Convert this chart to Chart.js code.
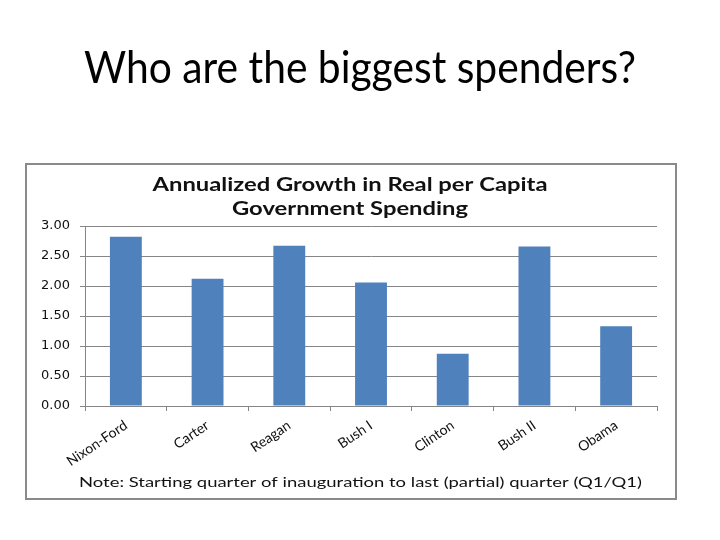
<!DOCTYPE html>
<html><head><meta charset="utf-8">
<script src="https://cdn.jsdelivr.net/npm/chart.js@4.4.1/dist/chart.umd.min.js"></script>
<style>html,body{margin:0;padding:0;background:#fff;}#c{display:block;}</style>
</head><body>
<canvas id="c" width="720" height="540"></canvas>
<script>
const slideTitle = "Who are the biggest spenders?";
const chartTitle = ["Annualized Growth in Real per Capita", "Government Spending"];
const noteText = "Note: Starting quarter of inauguration to last (partial) quarter (Q1/Q1)";
const categories = ["Nixon-Ford", "Carter", "Reagan", "Bush I", "Clinton", "Bush II", "Obama"];
const growth = [2.82, 2.12, 2.67, 2.06, 0.87, 2.66, 1.33];
const yTicks = [0, 0.5, 1, 1.5, 2, 2.5, 3];

// draw text at a given font size, stretched horizontally to a target width
function stretchText(ctx, text, cx, y, size, weight, family, target, sx) {
  ctx.font = weight + " " + size + "px " + family;
  const w = ctx.measureText(text).width;
  const k = sx || (target / w);
  ctx.save();
  ctx.translate(cx, y);
  ctx.scale(k, 1);
  ctx.textAlign = "center";
  ctx.fillText(text, 0, 0);
  ctx.restore();
  return k;
}

const decor = {
  id: "decor",
  beforeDraw(chart) {
    const ctx = chart.ctx;
    ctx.save();
    ctx.fillStyle = "#fff";
    ctx.fillRect(0, 0, chart.width, chart.height);
    ctx.strokeStyle = "#8a8a8a";
    ctx.lineWidth = 2;
    ctx.strokeRect(26, 164, 650, 335);
    ctx.restore();
  },
  afterDraw(chart) {
    const ctx = chart.ctx;
    ctx.save();
    ctx.textBaseline = "alphabetic";
    ctx.fillStyle = "#000";
    stretchText(ctx, slideTitle, 360, 83, 44, "normal", "Lato", 552);
    ctx.fillStyle = "#111";
    const k = stretchText(ctx, chartTitle[0], 350, 191, 18, "bold", "Lato", 395);
    stretchText(ctx, chartTitle[1], 350, 215, 18, "bold", "Lato", 0, k);
    stretchText(ctx, noteText, 360.5, 487, 14, "normal", "Lato", 563);
    ctx.restore();
  }
};

new Chart(document.getElementById("c"), {
  type: "bar",
  data: {
    labels: categories,
    datasets: [{
      data: growth,
      backgroundColor: "#4f81bd",
      borderWidth: 0,
      categoryPercentage: 1,
      barPercentage: 0.39
    }]
  },
  options: {
    responsive: false,
    animation: false,
    devicePixelRatio: 1,
    layout: { padding: { left: 25, right: 63, top: 226, bottom: 74 } },
    plugins: { legend: { display: false }, tooltip: { enabled: false }, title: { display: false } },
    scales: {
      x: {
        afterFit(scale) { scale.height = 60; },
        grid: { drawOnChartArea: false, drawTicks: true, tickLength: 5, color: "#868686", offset: true },
        border: { display: true, color: "#868686", width: 1 },
        ticks: { color: "#111", minRotation: 34, maxRotation: 34, padding: 6, font: { family: "Lato", size: 14 } }
      },
      y: {
        min: 0, max: 3,
        afterFit(scale) { scale.width = 60; },
        afterBuildTicks(scale) { scale.ticks = yTicks.map(v => ({ value: v })); },
        grid: { color: "#868686", lineWidth: 1, tickLength: 5, drawTicks: true },
        border: { display: true, color: "#868686", width: 1 },
        ticks: { color: "#111", padding: 10, font: { family: "DejaVu Sans", size: 13 }, callback: v => Number(v).toFixed(2) }
      }
    }
  },
  plugins: [decor]
});
</script>
</body></html>
